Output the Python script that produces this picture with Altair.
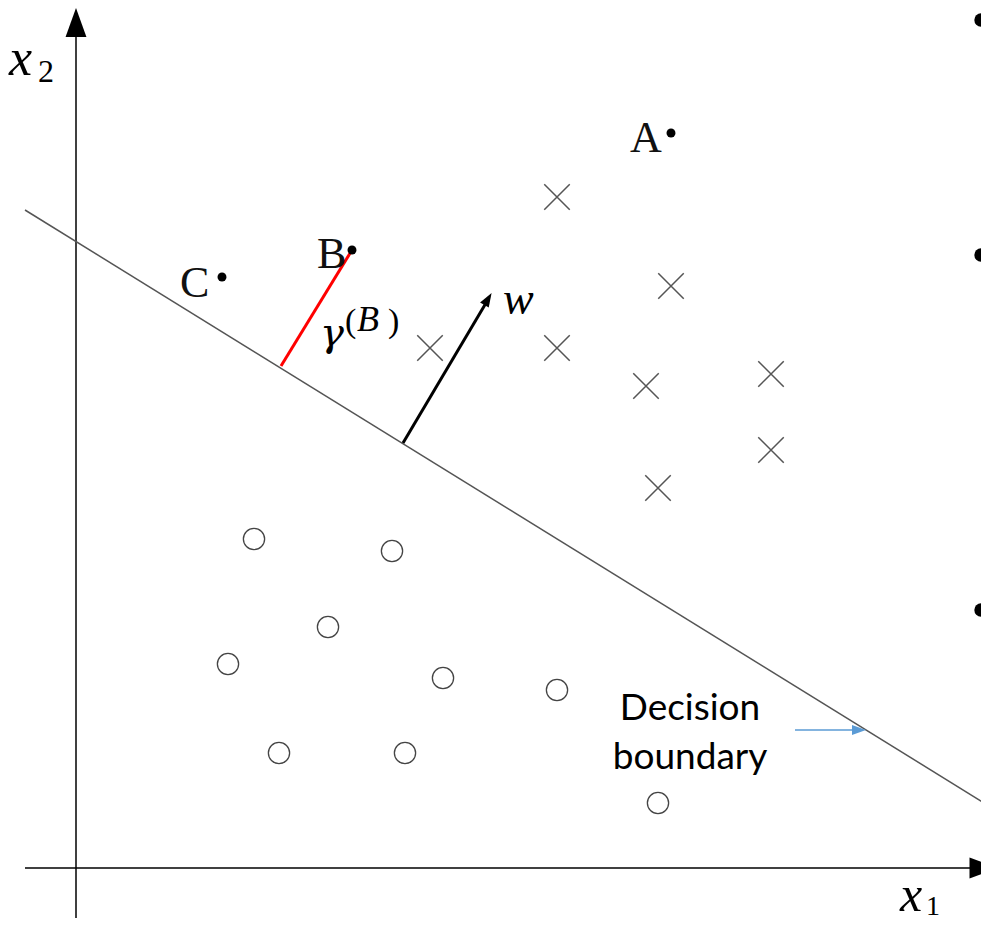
import altair as alt
import pandas as pd

# Canvas in reference-pixel units (page margin 8px)
W, H = 973, 916
X0, Y0 = 8, 8

# Class "x" samples (crosses)
cross_x = [557, 671, 430, 557, 646, 771, 771, 658]
cross_y = [197, 286, 348, 348, 386, 374, 450, 488]

# Class "o" samples (hollow circles)
circle_x = [254, 392, 328, 228, 443, 557, 279, 405, 658]
circle_y = [539, 551, 627, 664, 678, 690, 753, 753, 803]

# Named points
pt_names = ["A", "B", "C"]
pt_x = [671, 352, 222]
pt_y = [133, 250, 277]
lbl_x = [630, 317, 180]
lbl_y = [152, 268, 297]

# Line segments: axes, decision boundary, margin, normal vector, pointer
seg_name = ["x2axis", "x1axis", "boundary", "margin", "w", "pointer"]
seg_x = [76, 25, 25, 352, 403, 795]
seg_y = [918, 868, 210, 250, 443, 730]
seg_x2 = [76, 975, 989, 281, 486, 852]
seg_y2 = [30, 868, 806, 366, 303, 730]
seg_color = ["#000000", "#000000", "#555555", "#ff0000", "#000000", "#5B9BD5"]
seg_width = [1.5, 1.5, 1.5, 3, 3, 1.5]

# Arrowheads
head_x = [76, 984, 488, 859]
head_y = [22.5, 868, 299, 730]
head_angle = [0, 90, 31, 90]
head_size = [841, 841, 196, 196]
head_color = ["#000000", "#000000", "#000000", "#5B9BD5"]

# Slide bullets cut at right edge
bullet_x = [981, 981, 981]
bullet_y = [20, 255, 610]

xs = alt.Scale(domain=[X0, X0 + W], nice=False, zero=False)
ys = alt.Scale(domain=[Y0, Y0 + H], nice=False, zero=False, reverse=True)


def X(f="x"):
    return alt.X(f"{f}:Q", scale=xs, axis=None)


def Y(f="y"):
    return alt.Y(f"{f}:Q", scale=ys, axis=None)


segs = pd.DataFrame(dict(name=seg_name, x=seg_x, y=seg_y, x2=seg_x2, y2=seg_y2,
                         color=seg_color, w=seg_width))
rules = alt.Chart(segs).mark_rule(strokeCap="butt").encode(
    x=X(), y=Y(), x2="x2:Q", y2="y2:Q",
    color=alt.Color("color:N", scale=None),
    strokeWidth=alt.StrokeWidth("w:Q", scale=None),
)

heads = pd.DataFrame(dict(x=head_x, y=head_y, angle=head_angle, size=head_size, color=head_color))
arrowheads = alt.Chart(heads).mark_point(
    shape="M0,-1L-0.72,1L0.72,1Z", filled=True, opacity=1, strokeWidth=0
).encode(
    x=X(), y=Y(),
    angle=alt.Angle("angle:Q", scale=None),
    size=alt.Size("size:Q", scale=None),
    color=alt.Color("color:N", scale=None),
)

crosses = alt.Chart(pd.DataFrame(dict(x=cross_x, y=cross_y))).mark_point(
    shape="M-1,-1L1,1M-1,1L1,-1", filled=False, size=650, color="#555555",
    strokeWidth=1.5, opacity=1
).encode(x=X(), y=Y())

circles = alt.Chart(pd.DataFrame(dict(x=circle_x, y=circle_y))).mark_point(
    shape="circle", filled=False, size=452, color="#444444", strokeWidth=1.3, opacity=1
).encode(x=X(), y=Y())

dots = alt.Chart(pd.DataFrame(dict(x=pt_x + bullet_x,
                                   y=pt_y + bullet_y,
                                   s=[80, 80, 80, 180, 180, 180]))).mark_point(
    shape="circle", filled=True, color="#000000", opacity=1
).encode(x=X(), y=Y(), size=alt.Size("s:Q", scale=None))

pt_labels = alt.Chart(pd.DataFrame(dict(x=lbl_x, y=lbl_y, t=pt_names))).mark_text(
    font="Liberation Serif", fontSize=44, align="left", baseline="alphabetic", color="#111111"
).encode(x=X(), y=Y(), text="t:N")

# Math labels: italic parts
ital_t = ["x", "x", "w", "B"]
ital_x = [9, 900, 503, 357]
ital_y = [75, 911, 314, 331]
ital_s = [52, 50, 46, 36]
math_ital = alt.Chart(pd.DataFrame(dict(x=ital_x, y=ital_y, t=ital_t, s=ital_s))).mark_text(
    font="Liberation Serif", fontStyle="italic", align="left", baseline="alphabetic", color="#000000"
).encode(x=X(), y=Y(), text="t:N", size=alt.Size("s:Q", scale=None))

# Greek gamma (DejaVu Serif italic has a proper gamma shape)
gamma = alt.Chart(pd.DataFrame(dict(x=[320], y=[346], t=["γ"]))).mark_text(
    font="DejaVu Serif", fontStyle="italic", fontSize=40, align="left",
    baseline="alphabetic", color="#000000"
).encode(x=X(), y=Y(), text="t:N")

# Math labels: upright parts (subscripts, parentheses)
up_t = ["2", "1", "(", ")"]
up_x = [38, 926, 345, 388]
up_y = [82, 915, 332, 332]
up_s = [32, 28, 34, 34]
math_up = alt.Chart(pd.DataFrame(dict(x=up_x, y=up_y, t=up_t, s=up_s))).mark_text(
    font="Liberation Serif", align="left", baseline="alphabetic", color="#000000"
).encode(x=X(), y=Y(), text="t:N", size=alt.Size("s:Q", scale=None))

# Annotation
ann_t = ["Decision", "boundary"]
ann_x = [690, 690]
ann_y = [720, 769]
annotation = alt.Chart(pd.DataFrame(dict(x=ann_x, y=ann_y, t=ann_t))).mark_text(
    font="Lato", fontSize=37, align="center", baseline="alphabetic", color="#000000"
).encode(x=X(), y=Y(), text="t:N")

chart = alt.layer(
    rules, arrowheads, crosses, circles, dots, pt_labels, math_ital, gamma, math_up, annotation
).properties(
    width=W, height=H, padding=0,
    autosize=alt.AutoSizeParams(type="none"),
    view=alt.ViewBackground(strokeWidth=0, strokeOpacity=0),
).configure_view(strokeWidth=0, strokeOpacity=0).configure(background="transparent")

chart.save("out.html", embed_options={"renderer": "svg", "actions": False})
